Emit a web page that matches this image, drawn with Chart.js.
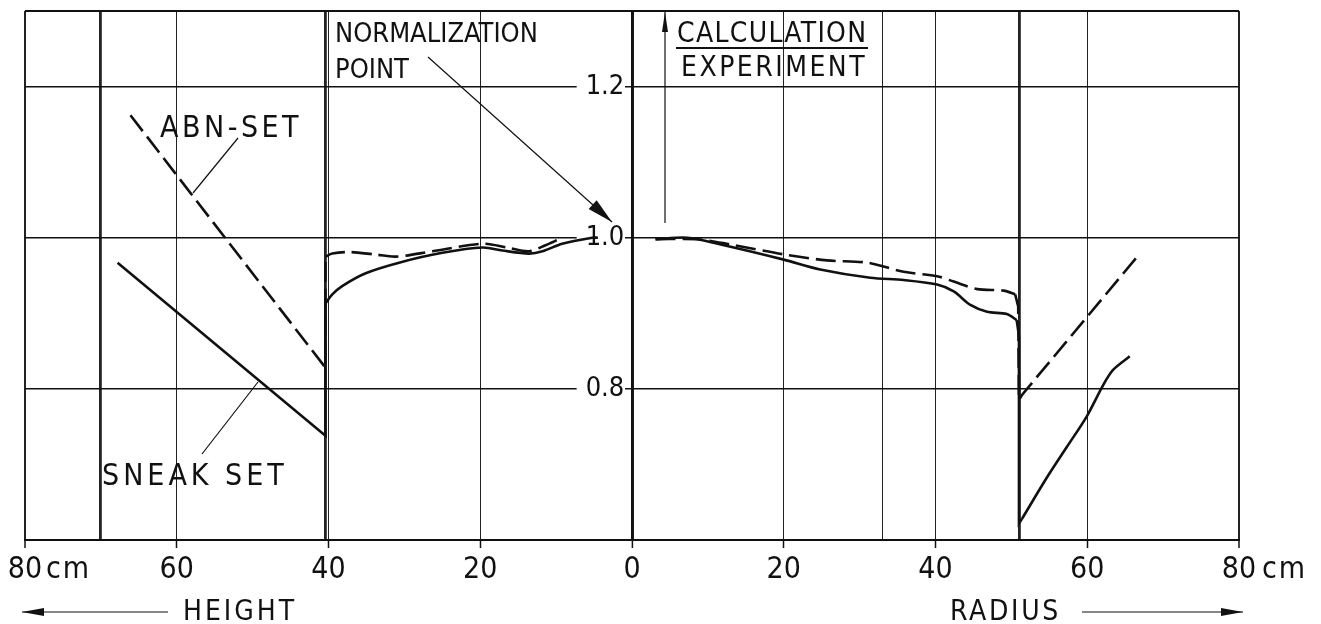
<!DOCTYPE html>
<html>
<head>
<meta charset="utf-8">
<script src="https://cdn.jsdelivr.net/npm/chart.js@4/dist/chart.umd.min.js"></script>
<style>
  html, body { margin: 0; padding: 0; background: #fff; }
</style>
</head>
<body>
<canvas id="grafico" width="1321" height="624"></canvas>
<script>
const FONTE = "'DejaVu Sans Condensed', 'DejaVu Sans', sans-serif";

// lado esquerdo: altura (cm, desenhada como negativa)
const sneakAlturaRetaX = [-67.8, -40.4, -40.4];
const sneakAlturaRetaY = [0.967, 0.738, 0.913];
const sneakAlturaCurvaX = [-40.4, -39.5, -38.2, -35.1, -30.7, -25.0, -19.7, -17.1, -13.6, -11.8, -9.2, -5.2, -4.5];
const sneakAlturaCurvaY = [0.913, 0.925, 0.936, 0.953, 0.967, 0.980, 0.987, 0.983, 0.979, 0.982, 0.992, 1.000, 1.000];
const abnAlturaRetaX = [-66.1, -40.4, -40.4];
const abnAlturaRetaY = [1.162, 0.828, 0.975];
const abnAlturaCurvaX = [-40.4, -39.5, -37.3, -34.0, -31.1, -26.3, -19.7, -16.5, -13.6, -11.4, -9.6];
const abnAlturaCurvaY = [0.975, 0.979, 0.981, 0.978, 0.975, 0.982, 0.992, 0.987, 0.982, 0.990, 0.998];

// lado direito: raio (cm)
const sneakRaioCurvaX = [3.1, 7.3, 11.7, 20.0, 24.8, 31.4, 35.8, 40.2, 42.4, 44.6, 46.8, 49.4, 50.7];
const sneakRaioCurvaY = [0.998, 1.000, 0.991, 0.971, 0.958, 0.947, 0.944, 0.938, 0.929, 0.911, 0.902, 0.899, 0.891];
const sneakRaioQuedaX = [50.7, 51.0, 51.0, 51.4];
const sneakRaioQuedaY = [0.891, 0.870, 0.622, 0.628];
const sneakRaioSubidaX = [51.4, 54.7, 57.3, 59.9, 62.1, 63.4, 65.6];
const sneakRaioSubidaY = [0.628, 0.683, 0.723, 0.763, 0.805, 0.825, 0.843];
const abnRaioCurvaX = [3.1, 8.6, 13.0, 20.0, 25.7, 31.0, 35.8, 40.2, 42.4, 45.5, 49.0, 50.5];
const abnRaioCurvaY = [0.998, 0.998, 0.991, 0.978, 0.970, 0.967, 0.955, 0.949, 0.942, 0.932, 0.930, 0.925];
const abnRaioRetaX = [50.5, 50.9, 51.0, 51.4, 66.6];
const abnRaioRetaY = [0.925, 0.909, 0.785, 0.792, 0.975];

// linhas da grade e marcas dos eixos
const gradeX = [-80, -70, -60, -40.4, -40, -20, 0, 20, 33, 40, 51, 60, 80];
const linhasGrossas = [-70, -40.4, 0, 51];
const gradeY = [0.6, 0.8, 1.0, 1.2, 1.3];
const rotulosY = [0.8, 1.0, 1.2];

function pontos(xs, ys) {
  return xs.map((x, i) => ({ x: x, y: ys[i] }));
}

function serie(xs, ys, tracejado, curva) {
  return {
    data: pontos(xs, ys),
    borderColor: "#111",
    borderWidth: 2.6,
    borderDash: tracejado ? [20, 7] : [],
    pointRadius: 0,
    showLine: true,
    tension: curva ? 0.3 : 0,
    fill: false
  };
}

function ehRotuloY(v) {
  return rotulosY.some(r => Math.abs(r - v) < 1e-6);
}

function texto(ctx, t, x, y, tamanho, espaco) {
  ctx.font = tamanho + "px " + FONTE;
  ctx.letterSpacing = (espaco || 0) + "px";
  ctx.textAlign = "left";
  ctx.textBaseline = "alphabetic";
  ctx.fillText(t, x, y);
  ctx.letterSpacing = "0px";
}

function linha(ctx, x1, y1, x2, y2, largura) {
  ctx.lineWidth = largura;
  ctx.beginPath();
  ctx.moveTo(x1, y1);
  ctx.lineTo(x2, y2);
  ctx.stroke();
}

function seta(ctx, x1, y1, x2, y2, comp, larg) {
  linha(ctx, x1, y1, x2, y2, 1.2);
  const a = Math.atan2(y2 - y1, x2 - x1);
  ctx.beginPath();
  ctx.moveTo(x2, y2);
  ctx.lineTo(x2 - comp * Math.cos(a) + larg * Math.sin(a), y2 - comp * Math.sin(a) - larg * Math.cos(a));
  ctx.lineTo(x2 - comp * Math.cos(a) - larg * Math.sin(a), y2 - comp * Math.sin(a) + larg * Math.cos(a));
  ctx.closePath();
  ctx.fill();
}

// textos e setas do desenho original
const anotacoes = {
  id: "anotacoes",
  afterDraw(chart) {
    const ctx = chart.ctx;
    ctx.save();
    ctx.fillStyle = "#111";
    ctx.strokeStyle = "#111";
    texto(ctx, "NORMALIZATION", 335, 42, 27, 0);
    texto(ctx, "POINT", 335, 78, 27, 0);
    seta(ctx, 428, 57, 612, 222, 26, 6);
    texto(ctx, "CALCULATION", 677, 42, 28, 1.3);
    linha(ctx, 676, 48, 868, 48, 2);
    texto(ctx, "EXPERIMENT", 681, 76, 28, 2.5);
    seta(ctx, 665, 223, 665, 12, 20, 3);
    texto(ctx, "ABN-SET", 160, 137, 30, 3.5);
    linha(ctx, 238, 138, 193, 193, 1.2);
    texto(ctx, "SNEAK SET", 102, 485, 30, 4);
    linha(ctx, 202, 454, 258, 382, 1.2);
    texto(ctx, "HEIGHT", 183, 620, 28, 3);
    seta(ctx, 168, 612, 22, 612, 22, 4);
    texto(ctx, "RADIUS", 950, 620, 28, 2.7);
    seta(ctx, 1082, 612, 1243, 612, 22, 4);
    texto(ctx, "cm", 46, 578, 30, 2);
    texto(ctx, "cm", 1262, 578, 30, 2);
    ctx.restore();
  }
};

new Chart(document.getElementById("grafico"), {
  type: "scatter",
  data: {
    datasets: [
      serie(sneakAlturaRetaX, sneakAlturaRetaY, false, false),
      serie(sneakAlturaCurvaX, sneakAlturaCurvaY, false, true),
      serie(abnAlturaRetaX, abnAlturaRetaY, true, false),
      serie(abnAlturaCurvaX, abnAlturaCurvaY, true, true),
      serie(sneakRaioCurvaX, sneakRaioCurvaY, false, true),
      serie(sneakRaioQuedaX, sneakRaioQuedaY, false, false),
      serie(sneakRaioSubidaX, sneakRaioSubidaY, false, true),
      serie(abnRaioCurvaX, abnRaioCurvaY, true, true),
      serie(abnRaioRetaX, abnRaioRetaY, true, false)
    ]
  },
  options: {
    responsive: false,
    animation: false,
    layout: { padding: { left: 25, right: 82, top: 11, bottom: 0 } },
    plugins: { legend: { display: false }, tooltip: { enabled: false } },
    scales: {
      x: {
        type: "linear",
        min: -80,
        max: 80,
        afterBuildTicks: s => { s.ticks = gradeX.map(v => ({ value: v })); },
        afterFit: s => { s.height = 84; },
        ticks: {
          autoSkip: false,
          maxRotation: 0,
          padding: 4,
          color: "#111",
          font: { family: FONTE, size: 30 },
          callback: v => (Number.isInteger(v / 20) ? String(Math.abs(v)) : "")
        },
        grid: {
          color: "#222",
          lineWidth: c => (linhasGrossas.includes(c.tick.value) ? 2.8 : (Math.abs(c.tick.value) === 80 ? 2 : 1)),
          tickLength: 8,
          tickColor: c => (Number.isInteger(c.tick.value / 20) ? "#111" : "rgba(0,0,0,0)"),
          tickWidth: 1.5
        },
        border: { display: true, color: "#111", width: 2 }
      },
      y: {
        type: "linear",
        position: { x: 0 },
        min: 0.6,
        max: 1.3,
        afterBuildTicks: s => { s.ticks = gradeY.map(v => ({ value: v })); },
        afterFit: s => { s.paddingTop = 0; s.paddingBottom = 0; },
        ticks: {
          padding: 8,
          color: "#111",
          font: { family: FONTE, size: 27 },
          showLabelBackdrop: c => ehRotuloY(c.tick.value),
          backdropColor: "#fff",
          backdropPadding: { left: 9, right: -7, top: 0, bottom: 0 },
          callback: v => (ehRotuloY(v) ? v.toFixed(1) + " " : "")
        },
        grid: {
          color: "#111",
          lineWidth: c => (ehRotuloY(c.tick.value) ? 1.4 : 2),
          drawTicks: false
        },
        border: { display: true, color: "#111", width: 2.8 }
      }
    }
  },
  plugins: [anotacoes]
});
</script>
</body>
</html>
